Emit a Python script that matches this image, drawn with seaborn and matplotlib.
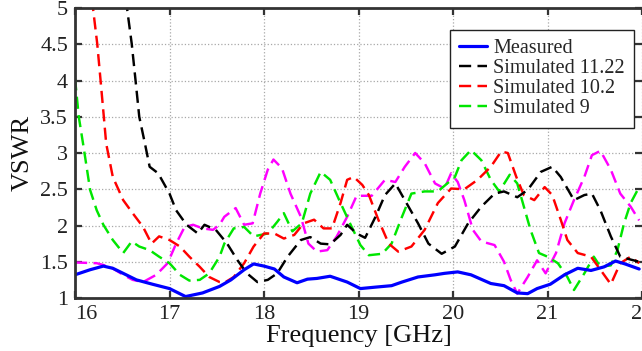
import matplotlib
matplotlib.use("Agg")
import matplotlib.pyplot as plt
import matplotlib.transforms as mtransforms
from matplotlib.ticker import FormatStrFormatter
import seaborn as sns

# ---- data (frequency in GHz, VSWR) ----
blue_f = [16.00, 16.16, 16.30, 16.40, 16.51, 16.65, 16.82, 17.00, 17.17, 17.35,
          17.53, 17.65, 17.79, 17.89, 18.00, 18.11, 18.21, 18.35, 18.46, 18.56,
          18.70, 18.88, 19.02, 19.18, 19.35, 19.46, 19.63, 19.81, 19.91, 20.05,
          20.19, 20.40, 20.54, 20.68, 20.79, 20.89, 21.03, 21.18, 21.32, 21.46,
          21.60, 21.72, 21.82, 21.97]
blue_v = [1.32, 1.39, 1.44, 1.41, 1.34, 1.25, 1.19, 1.13, 1.02, 1.07,
          1.16, 1.25, 1.39, 1.47, 1.44, 1.40, 1.29, 1.21, 1.26, 1.27,
          1.30, 1.22, 1.13, 1.15, 1.17, 1.22, 1.29, 1.32, 1.34, 1.36,
          1.32, 1.20, 1.17, 1.07, 1.06, 1.13, 1.19, 1.32, 1.41, 1.38,
          1.43, 1.51, 1.47, 1.40]

black_f = [16.53, 16.55, 16.60, 16.64, 16.68, 16.74, 16.79, 16.88, 17.00, 17.07,
           17.18, 17.30, 17.37, 17.49, 17.61, 17.72, 17.82, 17.93, 18.04, 18.14,
           18.25, 18.39, 18.49, 18.60, 18.70, 18.81, 18.88, 18.98, 19.07, 19.18,
           19.28, 19.39, 19.49, 19.63, 19.74, 19.88, 20.02, 20.16, 20.30, 20.44,
           20.54, 20.68, 20.79, 20.93, 21.05, 21.14, 21.28, 21.39, 21.47, 21.56,
           21.67, 21.77, 21.88, 21.97]
black_v = [5.3, 5.0, 4.51, 4.01, 3.5, 3.13, 2.81, 2.72, 2.44, 2.21,
           2.01, 1.89, 2.01, 1.94, 1.75, 1.52, 1.34, 1.22, 1.25, 1.34,
           1.57, 1.80, 1.84, 1.75, 1.74, 1.87, 2.01, 1.89, 1.83, 2.12,
           2.42, 2.58, 2.35, 2.03, 1.75, 1.61, 1.71, 2.03, 2.26, 2.44,
           2.47, 2.39, 2.49, 2.74, 2.81, 2.67, 2.35, 2.42, 2.44, 2.21,
           1.85, 1.57, 1.53, 1.50]

red_f = [16.17, 16.19, 16.235, 16.27, 16.305, 16.33, 16.40, 16.51, 16.61, 16.72,
         16.81, 16.89, 17.00, 17.11, 17.21, 17.32, 17.42, 17.53, 17.58, 17.68,
         17.79, 17.89, 18.00, 18.11, 18.21, 18.32, 18.42, 18.53, 18.63, 18.72,
         18.81, 18.88, 18.95, 19.04, 19.11, 19.21, 19.32, 19.42, 19.56, 19.70,
         19.84, 19.98, 20.12, 20.26, 20.40, 20.51, 20.58, 20.67, 20.75, 20.86,
         20.97, 21.05, 21.14, 21.21, 21.32, 21.46, 21.56, 21.67, 21.77, 21.88,
         21.97]
red_v = [5.3, 5.0, 4.51, 4.01, 3.5, 3.13, 2.67, 2.35, 2.17, 1.98,
         1.75, 1.85, 1.80, 1.71, 1.57, 1.43, 1.29, 1.22, 1.21, 1.29,
         1.48, 1.71, 1.89, 1.89, 1.82, 1.87, 2.03, 2.08, 1.96, 1.96,
         2.31, 2.63, 2.67, 2.56, 2.42, 2.08, 1.75, 1.64, 1.71, 1.94,
         2.31, 2.51, 2.50, 2.63, 2.81, 3.02, 3.00, 2.67, 2.42, 2.35,
         2.53, 2.42, 2.08, 1.80, 1.62, 1.57, 1.39, 1.19, 1.48, 1.57,
         1.48]

green_f = [16.00, 16.04, 16.09, 16.16, 16.23, 16.30, 16.40, 16.51, 16.60, 16.68,
           16.79, 16.89, 17.00, 17.11, 17.21, 17.32, 17.42, 17.53, 17.58, 17.68,
           17.79, 17.89, 18.04, 18.14, 18.21, 18.30, 18.40, 18.49, 18.60, 18.70,
           18.81, 18.91, 19.02, 19.11, 19.25, 19.35, 19.46, 19.56, 19.70, 19.84,
           20.02, 20.09, 20.19, 20.30, 20.40, 20.49, 20.60, 20.68, 20.75, 20.82,
           20.91, 21.00, 21.11, 21.21, 21.28, 21.39, 21.49, 21.56, 21.67, 21.74,
           21.81, 21.88, 21.97]
green_v = [4.03, 3.5, 3.09, 2.49, 2.21, 2.01, 1.80, 1.62, 1.78, 1.71,
           1.66, 1.57, 1.48, 1.32, 1.24, 1.25, 1.34, 1.57, 1.75, 1.96,
           1.98, 1.85, 1.89, 2.05, 2.17, 1.92, 2.03, 2.44, 2.74, 2.63,
           2.31, 2.03, 1.73, 1.59, 1.61, 1.75, 2.12, 2.44, 2.47, 2.47,
           2.67, 2.90, 3.04, 2.90, 2.63, 2.47, 2.70, 2.58, 2.26, 1.94,
           1.62, 1.57, 1.48, 1.29, 1.11, 1.34, 1.57, 1.43, 1.45, 1.66,
           2.03, 2.31, 2.53]

magenta_f = [16.00, 16.23, 16.37, 16.51, 16.61, 16.72, 16.86, 16.98, 17.07, 17.16,
             17.25, 17.35, 17.46, 17.53, 17.58, 17.70, 17.79, 17.88, 17.96, 18.04,
             18.10, 18.19, 18.28, 18.39, 18.47, 18.56, 18.67, 18.77, 18.88, 18.98,
             19.14, 19.28, 19.39, 19.49, 19.60, 19.70, 19.81, 19.91, 19.98, 20.05,
             20.12, 20.21, 20.30, 20.44, 20.54, 20.61, 20.68, 20.79, 20.89, 20.98,
             21.09, 21.18, 21.28, 21.39, 21.47, 21.56, 21.67, 21.77, 21.88, 21.97]
magenta_v = [1.49, 1.48, 1.43, 1.32, 1.25, 1.22, 1.32, 1.48, 1.75, 1.98,
             2.01, 1.96, 1.94, 2.01, 2.12, 2.24, 2.01, 2.03, 2.44, 2.77,
             2.91, 2.79, 2.44, 2.12, 1.75, 1.64, 1.66, 1.85, 2.12, 2.41,
             2.41, 2.63, 2.60, 2.81, 3.00, 2.86, 2.58, 2.51, 2.72, 2.60,
             2.35, 1.94, 1.78, 1.73, 1.50, 1.25, 1.06, 1.29, 1.52, 1.34,
             1.62, 2.03, 2.35, 2.67, 2.97, 3.03, 2.77, 2.44, 2.26, 2.07]

labels = ["Measured", "Simulated 11.22", "Simulated 10.2", "Simulated 9"]
x_ticks = [16, 17, 18, 19, 20, 21, 22]
y_ticks = [1, 1.5, 2, 2.5, 3, 3.5, 4, 4.5, 5]

# ---- style ----
sns.set_theme(style="ticks")
plt.rcParams["font.family"] = ["Liberation Serif", "DejaVu Serif"]

W, H = 642, 351
fig = plt.figure(figsize=(W / 100, H / 100), dpi=100)
ax = fig.add_axes([75 / W, 1 - 298 / H, 1 - 75 / W, 290 / H])

dash = (5, 2.6)
series = [
    (magenta_f, magenta_v, "#FF00FF", None, True),
    (green_f, green_v, "#00E600", labels[3], True),
    (red_f, red_v, "#FF0000", labels[2], True),
    (black_f, black_v, "#000000", labels[1], True),
    (blue_f, blue_v, "#0000FF", labels[0], False),
]
handles = {}
for f, v, c, lab, dashed in series:
    n_before = len(ax.lines)
    sns.lineplot(x=f, y=v, ax=ax, color=c, linewidth=1.75 if dashed else 2.3,
                 sort=False, estimator=None, legend=False)
    line = ax.lines[n_before]
    if dashed:
        line.set_dashes(dash)
    if lab is not None:
        handles[lab] = line

ax.set_xlim(16.0, 21.97)
ax.set_ylim(1, 5)
ax.set_xticks(x_ticks)
ax.set_yticks(y_ticks)
ax.yaxis.set_major_formatter(FormatStrFormatter("%g"))

ax.grid(True, color="#a8a8a8", linestyle=":", linewidth=0.9)
ax.set_axisbelow(True)

for side in ["left", "bottom", "top"]:
    ax.spines[side].set_linewidth(2.0)
    ax.spines[side].set_color("#333333")
ax.spines["right"].set_visible(False)

ax.tick_params(direction="in", length=5, width=1.6, top=True, right=True,
               labelsize=16, pad=5, color="#333333", labelcolor="#222222")

# first x tick label sits a little right of the axis corner, as in the original
first = ax.xaxis.get_major_ticks()[0].label1
first.set_transform(first.get_transform() +
                    mtransforms.ScaledTranslation(11 / 100, 0, fig.dpi_scale_trans))

ax.set_xlabel("Frequency [GHz]", fontsize=19, labelpad=1, color="#111111")
ax.set_ylabel("VSWR", fontsize=19, labelpad=5, color="#111111")

leg = ax.legend([handles[l] for l in labels], labels,
                loc="upper right", bbox_to_anchor=(634 / W, 1 - 30 / H),
                bbox_transform=fig.transFigure, frameon=True, fancybox=False,
                edgecolor="#222222", framealpha=1, fontsize=14.5,
                handlelength=1.4, handletextpad=0.3, labelspacing=0.05,
                borderpad=0.45, borderaxespad=0)
leg.get_frame().set_linewidth(1.0)

fig.savefig("out.png", dpi=100)
